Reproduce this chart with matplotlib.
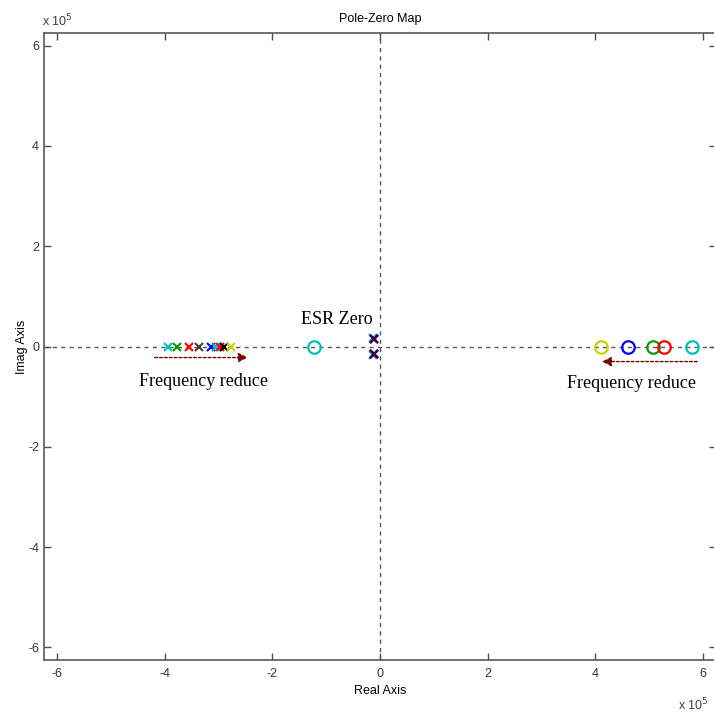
import matplotlib
matplotlib.use("Agg")
import matplotlib.pyplot as plt

plt.rcParams["axes.unicode_minus"] = False

SCALE = 1e5

# poles (x markers) in rad/s, colour per case
pole_re = [-3.95e5, -3.78e5, -3.56e5, -3.36e5, -3.14e5, -3.05e5, -2.98e5, -2.90e5, -2.78e5]
pole_im = [0, 0, 0, 0, 0, 0, 0, 0, 0]
pole_colors = ["c", "#00a000", "r", "#404040", "b", "c", "r", "k", "#d0d000"]

# lightly damped complex pole pairs near the origin
esr_pole_re = [-0.13e5, -0.12e5, -0.11e5, -0.12e5]
esr_pole_im = [0.16e5, 0.15e5, 0.14e5, 0.15e5]
esr_pole_colors = ["c", "r", "b", "#400040"]

# zeros (circles)
zero_re = [4.12e5, 4.62e5, 5.07e5, 5.29e5, 5.81e5, -1.22e5]
zero_im = [0, 0, 0, 0, 0, 0]
zero_colors = ["#d0d000", "b", "#00a000", "r", "c", "c"]

fig = plt.figure(figsize=(7.14, 7.15), dpi=100)
ax = fig.add_axes([44 / 714, 55 / 715, 672 / 714, 627 / 715])

# dashed axes through origin
ax.axhline(0, color="0.35", ls=(0, (3, 3)), lw=1, zorder=1)
ax.axvline(0, color="0.35", ls=(0, (3, 3)), lw=1, zorder=1)

for re, im, c in zip(pole_re, pole_im, pole_colors):
    ax.plot(re / SCALE, im / SCALE, "x", color=c, ms=5.5, mew=1.5, zorder=3)
for re, im, c in zip(esr_pole_re, esr_pole_im, esr_pole_colors):
    ax.plot(re / SCALE, im / SCALE, "x", color=c, ms=6, mew=1.6, zorder=3)
    ax.plot(re / SCALE, -im / SCALE, "x", color=c, ms=6, mew=1.6, zorder=3)
for re, im, c in zip(zero_re, zero_im, zero_colors):
    ax.plot(re / SCALE, im / SCALE, "o", color=c, mfc="none", ms=9, mew=1.6, zorder=3)

# annotations
arrow_kw = dict(arrowstyle="-|>", color="#7a0000", lw=1, ls=(0, (2, 1.5)),
                mutation_scale=14, shrinkA=0, shrinkB=0)
ax.annotate("", xy=(-2.46, -0.22), xytext=(-4.19, -0.22), arrowprops=arrow_kw)
ax.annotate("", xy=(4.13, -0.30), xytext=(5.90, -0.30), arrowprops=arrow_kw)

serif = dict(family="Liberation Serif", fontsize=13, color="black")
ax.text(-3.29, -0.70, "Frequency reduce", ha="center", va="center", **serif)
ax.text(4.68, -0.74, "Frequency reduce", ha="center", va="center", **serif)
ax.text(-0.80, 0.54, "ESR Zero", ha="center", va="center", **serif)

ax.set_xlim(-6.25, 6.25)
ax.set_ylim(-6.25, 6.25)
ticks = [-6, -4, -2, 0, 2, 4, 6]
ax.set_xticks(ticks)
ax.set_yticks(ticks)
ax.tick_params(direction="in", top=True, right=True, length=5, width=1,
               color="0.3", labelcolor="0.2", labelsize=9)
ax.tick_params(axis="x", pad=6)
for lbl in ax.get_xticklabels() + ax.get_yticklabels():
    lbl.set_family("Liberation Sans")
for s in ax.spines.values():
    s.set_color("0.35")
    s.set_linewidth(1.2)

ax.set_xlabel("Real Axis", family="Liberation Sans", fontsize=9, labelpad=3)
ax.set_ylabel("Imag Axis", family="Liberation Sans", fontsize=9, labelpad=0)
ax.set_title("Pole-Zero Map", family="Liberation Sans", fontsize=9, pad=8)

fig.text(42 / 714, 1 - 26 / 715, r"x 10$^5$", family="Liberation Sans", fontsize=9, color="0.25")
fig.text(678 / 714, 1 - 710 / 715, r"x 10$^5$", family="Liberation Sans", fontsize=9, color="0.25")

fig.savefig("out.png", dpi=100)
